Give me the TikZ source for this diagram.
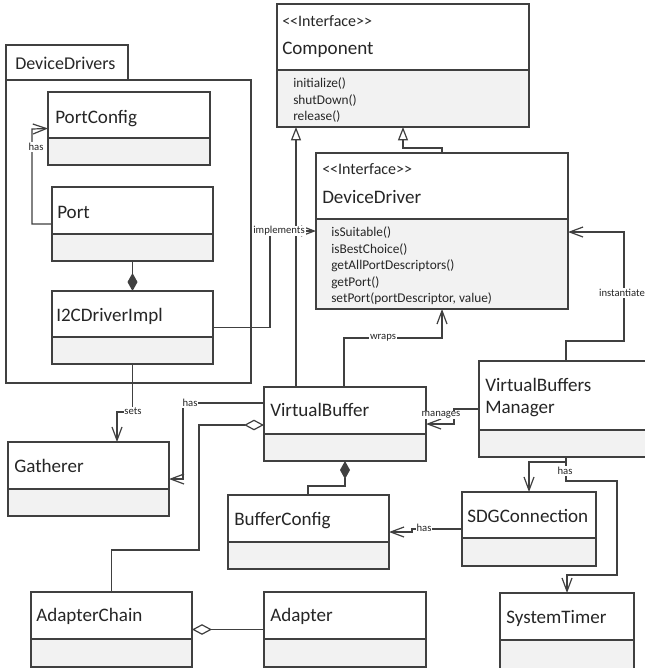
\documentclass[tikz,border=0pt]{standalone}
\usepackage{fontspec}
\setmainfont{Carlito}
\usetikzlibrary{arrows.meta}

\definecolor{inkline}{RGB}{64,64,64}
\definecolor{inktext}{RGB}{38,38,38}
\definecolor{compgray}{RGB}{242,242,242}

\tikzset{
  boxline/.style={draw=inkline, line width=0.9pt},
  classbox/.style={boxline, rectangle, inner sep=0pt, outer sep=0pt},
  cname/.style={font=\fontsize{14.3}{17}\selectfont, text=inktext, inner sep=0pt, anchor=base west},
  stereo/.style={font=\fontsize{12}{14}\selectfont, text=inktext, inner sep=0pt, anchor=base west},
  opline/.style={font=\fontsize{10}{12}\selectfont, text=inktext, inner sep=0pt, anchor=base west},
  lbl/.style={font=\fontsize{8}{9.6}\selectfont, text=inktext, fill=white, inner sep=0.6pt},
  conn/.style={draw=inkline, line width=0.9pt},
  assoc/.style={conn, -{Straight Barb[length=10pt,width=7.5pt]}},
  gener/.style={conn, -{Triangle[open,length=10pt,width=7.5pt]}},
  compo/.style={conn, {Diamond[length=13.5pt,width=7.5pt]}-},
  aggr/.style={conn, {Diamond[open,length=15pt,width=8pt]}-},
}

% class box: name, left, top, right, divider, bottom (pixel grid, y downwards)
\newcommand\umlclass[6]{%
  \fill[compgray] (#2,#5) rectangle (#4,#6);
  \draw[boxline] (#2,#5) -- (#4,#5);
  \node[classbox, anchor=north west, minimum width={(#4-#2)*0.75pt},
        minimum height={(#6-#3)*0.75pt}] (#1) at (#2,#3) {};
}

\begin{document}
\begin{tikzpicture}[x=0.75pt, y=-0.75pt]
\useasboundingbox (0,0) rectangle (645,668);
\clip (0,0) rectangle (645,668);
\fill[white] (0,0) rectangle (645,668);

% package DeviceDrivers
\node[classbox, anchor=north west, minimum width={122*0.75pt}, minimum height={35*0.75pt}] (pkgtab) at (6,45) {};
\node[classbox, anchor=north west, minimum width={245*0.75pt}, minimum height={303*0.75pt}] (pkg) at (6,80) {};
\node[cname, font=\fontsize{13.5}{16}\selectfont] (pkgname) at (15,69) {DeviceDrivers};

% classes
\umlclass{component}{277}{4}{529}{70}{127}
\node[stereo] (component-st) at (282,26) {<\kern0pt<Interface>\kern0pt>};
\node[cname] (component-nm) at (282,54) {Component};
\node[opline] (component-op1) at (293,87) {initialize()};
\node[opline] (component-op2) at (293,104) {shutDown()};
\node[opline] (component-op3) at (293,120) {release()};

\umlclass{devdrv}{316}{153}{568}{219}{309}
\node[stereo] (devdrv-st) at (322,174) {<\kern0pt<Interface>\kern0pt>};
\node[cname] (devdrv-nm) at (322,203) {DeviceDriver};
\node[opline] (devdrv-op1) at (331,236) {isSuitable()};
\node[opline] (devdrv-op2) at (331,253) {isBestChoice()};
\node[opline] (devdrv-op3) at (331,269) {getAllPortDescriptors()};
\node[opline] (devdrv-op4) at (331,286) {getPort()};
\node[opline] (devdrv-op5) at (331,302) {setPort(portDescriptor, value)};

\umlclass{portconfig}{48}{92}{210}{138}{165}
\node[cname] (portconfig-nm) at (55,123) {PortConfig};

\umlclass{port}{52}{187}{213}{234}{261}
\node[cname] (port-nm) at (57,218) {Port};

\umlclass{i2c}{52}{291}{213}{337}{364}
\node[cname] (i2c-nm) at (56,321) {I2CDriverImpl};

\umlclass{vbuf}{264}{387}{426}{434}{461}
\node[cname] (vbuf-nm) at (270,416) {VirtualBuffer};

\umlclass{vbm}{479}{361}{650}{430}{457}
\node[cname] (vbm-nm1) at (485,391) {VirtualBuffers};
\node[cname] (vbm-nm2) at (485,413) {Manager};

\umlclass{gatherer}{8}{442}{169}{489}{516}
\node[cname] (gatherer-nm) at (14,472) {Gatherer};

\umlclass{bufcfg}{228}{495}{389}{542}{569}
\node[cname] (bufcfg-nm) at (234,525) {BufferConfig};

\umlclass{sdg}{462}{492}{596}{538}{566}
\node[cname] (sdg-nm) at (467,522) {SDGConnection};

\umlclass{adchain}{31}{592}{192}{639}{667}
\node[cname] (adchain-nm) at (36,621) {AdapterChain};

\umlclass{adapter}{264}{592}{426}{639}{667}
\node[cname] (adapter-nm) at (270,621) {Adapter};

\umlclass{systimer}{500}{593}{634}{640}{672}
\node[cname] (systimer-nm) at (506,623) {SystemTimer};

% connectors
\draw[assoc] (port.west) -| (32,129) -- (portconfig.west);
\draw[compo] (i2c.north) -- (port.south);
\draw[assoc] (i2c.east) -| (270,231) -- (devdrv.west |- 0,231);
\draw[gener] (devdrv.north -| 442,0) |- (403,148) -- (component.south -| 403,0);
\draw[gener] (vbuf.north -| 296,0) -- (component.south -| 296,0);
\draw[assoc] (vbuf.north -| 344,0) |- (442,338) -- (devdrv.south -| 442,0);
\draw[assoc] (i2c.south) |- (117,412) -- (gatherer.north -| 117,0);
\draw[assoc] (vbuf.west |- 0,403) -| (183,479) -- (gatherer.east |- 0,479);
\draw[aggr] (vbuf.west |- 0,425) -| (199,550) -| (adchain.north);
\draw[aggr] (adchain.east) -- (adapter.west);
\draw[compo] (vbuf.south) |- (308,486) -- (bufcfg.north -| 308,0);
\draw[assoc] (sdg.west) -- (412,529) -- (412,532) -- (bufcfg.east);
\draw[assoc] (vbm.west) -| (454,424) -- (vbuf.east);
\draw[assoc] (vbm.north -| 566,0) |- (624,341) |- (devdrv.east |- 0,232);
\draw[assoc] (vbm.south -| 566,0) -- (566,462) -| (sdg.north);
\draw[assoc] (vbm.south -| 566,0) -- (566,481) -| (617,575) -| (systimer.north);

% connector labels
\node[lbl] (l-has1) at (36,147) {has};
\node[lbl] (l-impl) at (279,231) {implements};
\node[lbl] (l-wraps) at (383,338) {wraps};
\node[lbl] (l-sets) at (133,411) {sets};
\node[lbl] (l-has2) at (190,403) {has};
\node[lbl] (l-manages) at (441,415) {manages};
\node[lbl] (l-inst) at (622,293) {instantiate};
\node[lbl] (l-has3) at (565,471) {has};
\node[lbl] (l-has4) at (424,528) {has};
\end{tikzpicture}
\end{document}
